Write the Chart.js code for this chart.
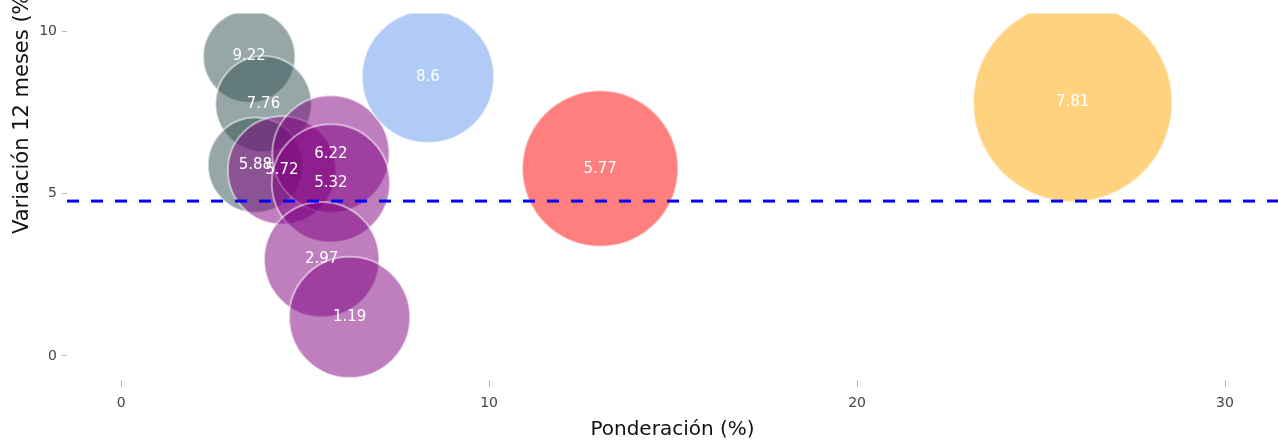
<!DOCTYPE html>
<html>
<head>
<meta charset="utf-8">
<script src="https://cdn.jsdelivr.net/npm/chart.js@4.4.1/dist/chart.umd.min.js"></script>
<style>
    html, body { margin: 0; padding: 0; background: #fff; }
    #wrap { width: 1278px; height: 442px; position: relative; }
</style>
</head>
<body>
<div id="wrap"><canvas id="bubble-chart"></canvas></div>
<script>
// Data -------------------------------
const ponderacion = [3.48, 3.87, 3.65, 4.37, 5.70, 5.70, 5.45, 6.21, 8.34, 13.02, 25.86];
const variacion   = [9.22, 7.76, 5.88, 5.72, 6.22, 5.32, 2.97, 1.19, 8.6, 5.77, 7.81];
const tamano      = [46, 48, 47.5, 54, 58.5, 59, 57.5, 60.5, 66, 78, 99.5];
const grupo       = [0, 0, 0, 1, 1, 1, 1, 1, 2, 3, 4];
const grupos      = ["gris", "morado", "azul", "rojo", "naranja"];
const meta        = 4.77;
const xTicks      = [0, 10, 20, 30];
const yTicks      = [0, 5, 10];

const X_MIN = -1.47, X_MAX = 31.44;
const Y_MIN = -0.74, Y_MAX = 10.55;
const FONT = "'DejaVu Sans', Verdana, sans-serif";

const colores = {
    gris: "rgba(47, 79, 79, 0.5)",
    morado: "rgba(128, 0, 128, 0.5)",
    azul: "rgba(100, 149, 237, 0.5)",
    rojo: "rgba(255, 0, 0, 0.5)",
    naranja: "rgba(255, 165, 0, 0.5)"
};

// one dataset per group, first group drawn at the bottom
let datasets = grupos.map((g, gi) => {
    let pts = [];
    ponderacion.forEach((p, i) => {
        if (grupo[i] === gi) pts.push({ x: p, y: variacion[i], r: tamano[i] });
    });
    return {
        type: "bubble",
        label: g,
        data: pts,
        backgroundColor: colores[g],
        borderColor: "rgba(255, 255, 255, 0.5)",
        borderWidth: 2,
        hoverBorderWidth: 2,
        hoverRadius: 0,
        clip: 0,
        order: grupos.length - gi
    };
});

datasets.push({
    type: "line",
    label: "meta",
    data: [{ x: X_MIN, y: meta }, { x: X_MAX, y: meta }],
    borderColor: "#0000ff",
    borderWidth: 3,
    borderDash: [12, 12],
    pointRadius: 0,
    fill: false,
    order: 0
});

// Labels inside bubbles + rotated y title
const bubbleLabels = {
    id: "bubbleLabels",
    afterDatasetsDraw(chart) {
        const ctx = chart.ctx;
        ctx.save();
        ctx.font = "15px " + FONT;
        ctx.fillStyle = "#ffffff";
        ctx.textAlign = "center";
        ctx.textBaseline = "middle";
        chart.data.datasets.forEach((ds, di) => {
            if (ds.type !== "bubble") return;
            chart.getDatasetMeta(di).data.forEach((el, i) => {
                ctx.fillText(String(ds.data[i].y), el.x, el.y);
            });
        });
        ctx.restore();
    },
    afterDraw(chart) {
        const ctx = chart.ctx;
        ctx.save();
        ctx.font = "21px " + FONT;
        ctx.fillStyle = "#111";
        ctx.textAlign = "left";
        ctx.textBaseline = "alphabetic";
        ctx.translate(28, 234);
        ctx.rotate(-Math.PI / 2);
        ctx.fillText("Variación 12 meses (%)", 0, 0);
        ctx.restore();
    }
};

new Chart(document.getElementById("bubble-chart"), {
    type: "bubble",
    data: { datasets: datasets },
    plugins: [bubbleLabels],
    options: {
        responsive: true,
        maintainAspectRatio: false,
        animation: false,
        events: [],
        layout: { autoPadding: false, padding: { top: 12, right: 0, bottom: 0, left: 0 } },
        plugins: {
            legend: { display: false },
            tooltip: { enabled: false }
        },
        scales: {
            x: {
                type: "linear",
                min: X_MIN,
                max: X_MAX,
                afterBuildTicks: (axis) => { axis.ticks = xTicks.map(v => ({ value: v })); },
                afterFit: (axis) => { axis.height = 62; },
                grid: { drawOnChartArea: false, drawTicks: true, tickLength: 7, tickColor: "#bbb" },
                border: { display: false },
                ticks: { color: "#444", font: { family: FONT, size: 14 }, padding: 8, maxRotation: 0 },
                title: {
                    display: true,
                    text: "Ponderación (%)",
                    color: "#111",
                    font: { family: FONT, size: 20 },
                    padding: { top: 0, bottom: 0 }
                }
            },
            y: {
                type: "linear",
                min: Y_MIN,
                max: Y_MAX,
                afterBuildTicks: (axis) => { axis.ticks = yTicks.map(v => ({ value: v })); },
                afterFit: (axis) => { axis.width = 67; },
                grid: { drawOnChartArea: false, drawTicks: true, tickLength: 5, tickColor: "#bbb" },
                border: { display: false },
                ticks: { color: "#444", font: { family: FONT, size: 14 }, padding: 5 }
            }
        }
    }
});
</script>
</body>
</html>
